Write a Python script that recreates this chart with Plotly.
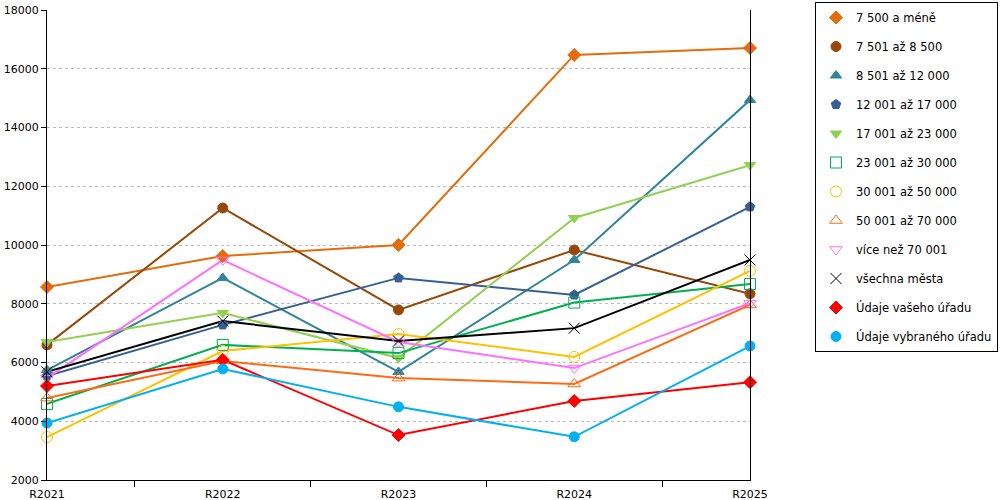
import plotly.graph_objects as go

# roky (kategorie osy x)
roky = ["R2021", "R2022", "R2023", "R2024", "R2025"]

# hodnoty jednotlivých skupin
s_7500 = [8570, 9625, 10000, 16470, 16705]
s_8500 = [6600, 11260, 7790, 9830, 8340]
s_12000 = [5740, 8880, 5680, 9490, 14935]
s_17000 = [5540, 7280, 8880, 8300, 11300]
s_23000 = [6700, 7690, 6150, 10920, 12720]
s_30000 = [4590, 6600, 6320, 8040, 8670]
s_50000 = [3460, 6390, 6970, 6190, 9120]
s_70000 = [4790, 6050, 5470, 5270, 7960]
s_nad70000 = [5470, 9490, 6700, 5810, 8020]
s_vsechna = [5680, 7410, 6730, 7170, 9490]
s_vas_urad = [5200, 6090, 3530, 4690, 5330]
s_vybrany_urad = [3940, 5780, 4490, 3470, 6560]

nazvy = ["7 500 a méně", "7 501 až 8 500", "8 501 až 12 000", "12 001 až 17 000",
         "17 001 až 23 000", "23 001 až 30 000", "30 001 až 50 000", "50 001 až 70 000",
         "více než 70 001", "všechna města", "Údaje vašeho úřadu", "Údaje vybraného úřadu"]
rady = [s_7500, s_8500, s_12000, s_17000, s_23000, s_30000, s_50000, s_70000,
        s_nad70000, s_vsechna, s_vas_urad, s_vybrany_urad]
barvy = ["#E46C0A", "#974706", "#31849B", "#366092", "#92D050", "#00B050",
         "#FFC000", "#FF6A13", "#FF70FF", "#000000", "#FF0000", "#00B0F0"]
symboly = ["diamond", "circle", "triangle-up", "pentagon", "triangle-down", "square-open",
           "circle-open", "triangle-up-open", "triangle-down-open", "x-thin", "diamond", "circle"]

x = list(range(len(roky)))

fig = go.Figure()
# nejdřív čáry (bez legendy)
for i, hodnoty in enumerate(rady):
    fig.add_trace(go.Scatter(
        x=x, y=hodnoty, mode="lines", showlegend=False, hoverinfo="skip",
        line=dict(color=barvy[i], width=2), cliponaxis=False,
    ))
# pak značky (v legendě jen značka)
for i, (nazev, hodnoty) in enumerate(zip(nazvy, rady)):
    otevreny = symboly[i].endswith("open") or symboly[i] == "x-thin"
    fig.add_trace(go.Scatter(
        x=x, y=hodnoty, name=nazev, mode="markers",
        legendgroup=str(i), cliponaxis=False,
        marker=dict(symbol=symboly[i], size=11 if otevreny else 10, color=barvy[i],
                    line=dict(color=barvy[i], width=1)),
    ))

fig.update_layout(
    width=1000, height=500,
    margin=dict(l=47, r=250, t=10, b=20),
    plot_bgcolor="white", paper_bgcolor="white",
    font=dict(family="DejaVu Sans", size=11, color="black"),
    legend=dict(
        xref="container", yref="container", x=0.815, y=0.996,
        xanchor="left", yanchor="top",
        bordercolor="black", borderwidth=1,
        font=dict(size=11.5), tracegroupgap=10,
        traceorder="grouped", maxheight=0.99, itemwidth=30,
    ),
)
fig.update_xaxes(
    range=[0, 4], tickvals=x, ticktext=roky, ticks="", automargin=False,
    ticklabelstandoff=4,
    showline=True, linecolor="black", linewidth=1,
    showgrid=False, zeroline=False,
    minor=dict(tickvals=[0.5, 1.5, 2.5, 3.5], ticks="outside", ticklen=6,
               tickcolor="black", showgrid=False),
)
fig.update_yaxes(
    range=[2000, 18000], dtick=2000, tickformat="d", automargin=False,
    ticks="outside", ticklen=5, tickcolor="black",
    showline=True, linecolor="black", linewidth=1, mirror=True,
    showgrid=True, gridcolor="#BBBBBB", griddash="dot", zeroline=False,
)

fig.write_html("out.html", config={"displayModeBar": False},
               post_script="document.body.style.margin='0';document.body.style.overflow='hidden';")
